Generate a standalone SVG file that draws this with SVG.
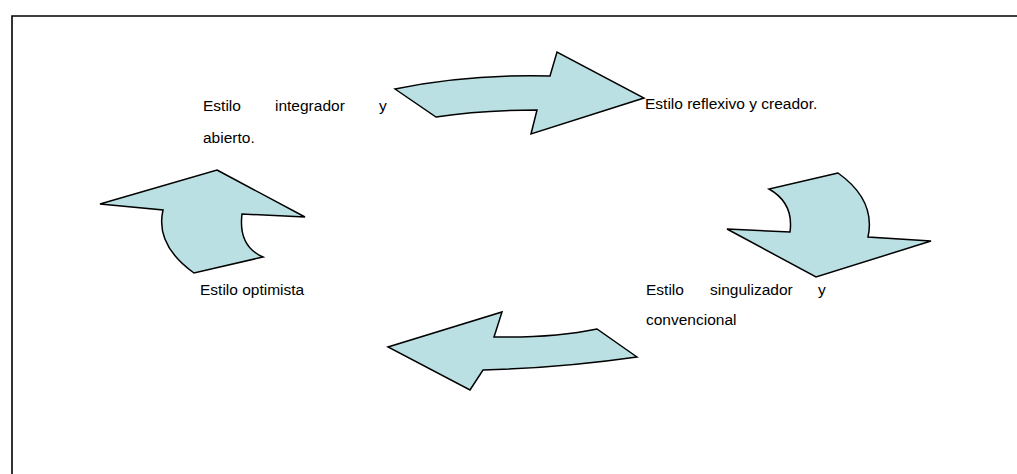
<svg xmlns="http://www.w3.org/2000/svg" width="1017" height="474" viewBox="0 0 1017 474">
<style>
.frame{fill:none;stroke:#000;stroke-width:1.6}
.arrow{fill:#bae0e3;stroke:#000;stroke-width:1.5;stroke-linejoin:miter}
.t{font-family:"Liberation Sans",Arial,sans-serif;font-size:15.5px;fill:#000}
</style>
<rect width="1017" height="474" fill="#fff"/>
<path class="frame" d="M12,474 V16 H1017"/>
<g id="connectors">
<path id="arrow-top" class="arrow" d="M395,89 Q468,74 550,76 L557,52 L644,98 L531,134 L537,110 Q480,110 436,117 Z"/>
<path id="arrow-right" class="arrow" d="M838,173 L769,189 Q794,203 790,232 L727,229 L816,277 L931,241 L868,237 Q876,200 838,173 Z"/>
<path id="arrow-bottom" class="arrow" d="M637,357 L597,329 Q555,338 494,337 L502,312 L388,347 L470,390 L483,370 Q560,368 637,357 Z"/>
<path id="arrow-left" class="arrow" d="M217,170 L305,217 L242,214 Q238,246 263,257 L194,273 Q155,245 163,210 L100,204 Z"/>
</g>
<g id="node-integrador">
<text class="t" x="203" y="111">Estilo</text>
<text class="t" x="275" y="111">integrador</text>
<text class="t" x="379" y="111">y</text>
<text class="t" x="203" y="143">abierto.</text>
</g>
<g id="node-reflexivo">
<text class="t" x="645" y="109">Estilo reflexivo y creador.</text>
</g>
<g id="node-singulizador">
<text class="t" x="646" y="295">Estilo</text>
<text class="t" x="710" y="295">singulizador</text>
<text class="t" x="818" y="295">y</text>
<text class="t" x="646" y="325">convencional</text>
</g>
<g id="node-optimista">
<text class="t" x="200" y="295">Estilo optimista</text>
</g>
</svg>
